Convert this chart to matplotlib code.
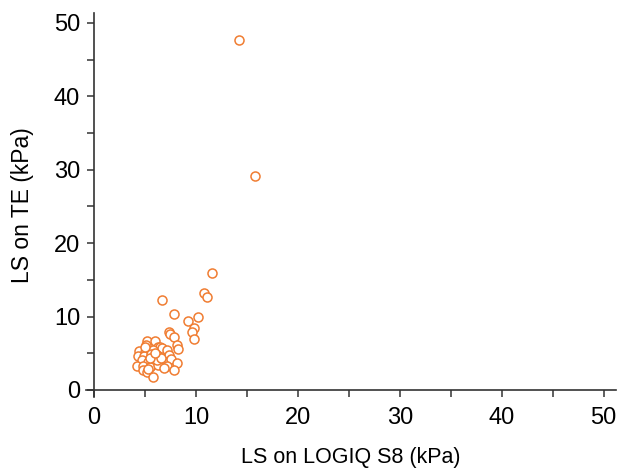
import matplotlib
matplotlib.use('Agg')
import matplotlib.pyplot as plt
from matplotlib.ticker import MultipleLocator

plt.rcParams['font.family'] = ['Liberation Sans', 'DejaVu Sans']

# LS on LOGIQ S8 (kPa) vs LS on TE (kPa)
logiq = [14.2, 15.8, 11.6, 10.8, 11.1, 6.7, 7.9, 9.2, 10.2, 9.8, 9.6, 9.8,
         7.35, 7.45, 7.9, 8.1, 8.2, 5.16, 5.98, 5.07, 6.31, 6.47, 6.63,
         4.41, 5.0, 5.82, 7.12, 4.35, 4.94, 5.59, 6.14, 7.35, 4.67, 5.33,
         5.98, 6.8, 7.55, 8.1, 4.25, 4.84, 5.49, 6.31, 7.12, 4.84, 5.16,
         7.84, 5.75, 6.14, 5.5, 6.6, 5.0, 6.9, 5.3, 6.0]
te = [47.7, 29.2, 15.9, 13.2, 12.7, 12.3, 10.35, 9.4, 9.9, 8.4, 7.9, 6.9,
      7.95, 7.63, 7.27, 6.13, 5.54, 6.72, 6.72, 6.13, 5.81, 5.81, 5.67,
      5.31, 5.22, 5.45, 5.45, 4.63, 4.63, 4.9, 4.77, 4.77, 4.09, 3.86,
      3.86, 3.95, 4.18, 3.72, 3.27, 3.27, 3.17, 3.4, 3.27, 2.72, 2.5,
      2.72, 1.82, 4.09, 4.4, 4.3, 5.8, 3.0, 2.9, 5.1]

fig = plt.figure(figsize=(6.2, 4.71), dpi=100)
ax = fig.add_axes([0.1384, 0.1565, 0.855, 0.8166])

ax.plot(logiq, te, linestyle='none', marker='o', markersize=6.5,
        markerfacecolor='white', markeredgecolor='#F07D32', markeredgewidth=1.1)

ax.set_xlim(-0.8, 51.2)
ax.set_ylim(-1.0, 51.4)
ax.xaxis.set_major_locator(MultipleLocator(10))
ax.xaxis.set_minor_locator(MultipleLocator(5))
ax.yaxis.set_major_locator(MultipleLocator(10))
ax.yaxis.set_minor_locator(MultipleLocator(5))

for s in ['top', 'right']:
    ax.spines[s].set_visible(False)
for s in ['left', 'bottom']:
    ax.spines[s].set_position(('data', 0))
    ax.spines[s].set_color('#333333')
    ax.spines[s].set_linewidth(1.2)

ax.tick_params(which='both', direction='out', length=5, width=1.1,
               color='#333333', labelsize=17, labelcolor='black')
ax.tick_params(axis='x', pad=7)
ax.tick_params(axis='y', pad=5)

ax.set_xlabel('LS on LOGIQ S8 (kPa)', fontsize=15.5, labelpad=13)
ax.set_ylabel('LS on TE (kPa)', fontsize=16.5, labelpad=14)

fig.savefig('out.png', dpi=100)
